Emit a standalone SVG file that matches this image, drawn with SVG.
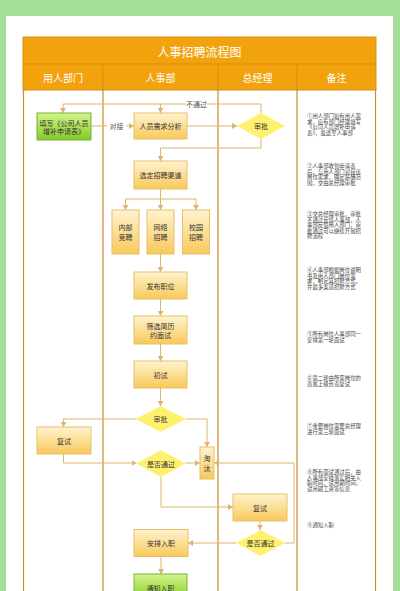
<svg xmlns="http://www.w3.org/2000/svg" width="400" height="591" viewBox="0 0 400 591">
<style>
text{font-family:"Noto Sans CJK SC","Noto Sans",sans-serif}
.hd{fill:#ffffff;font-size:10px;text-anchor:middle;dominant-baseline:central}
.tt{fill:#ffffff;font-size:12px;text-anchor:middle;dominant-baseline:central}
.nt{fill:#333333;font-size:7px;text-anchor:middle;dominant-baseline:central}
.lb{fill:#555555;font-size:7px;text-anchor:middle;dominant-baseline:central}
.note{fill:#444444;font-size:10.8px}
.box{fill:url(#gy);stroke:#e8bf68;stroke-width:1}
.gbox{fill:url(#gg);stroke:#72b334;stroke-width:1}
.dia{fill:#fff170}
.ln{fill:none;stroke:#dbb66c;stroke-width:1}
.arr{fill:none;stroke:#dbb66c;stroke-width:1;marker-end:url(#ah)}
.lane{stroke:#c98d2c;stroke-width:1.2}
</style>
<defs>
<linearGradient id="gy" x1="0" y1="0" x2="0" y2="1">
<stop offset="0" stop-color="#fff3cf"/>
<stop offset="1" stop-color="#f8c95a"/>
</linearGradient>
<linearGradient id="gg" x1="0" y1="0" x2="0" y2="1">
<stop offset="0" stop-color="#d4f48c"/>
<stop offset="1" stop-color="#84cb27"/>
</linearGradient>
<marker id="ah" markerWidth="6" markerHeight="6" refX="5" refY="3" orient="auto" markerUnits="userSpaceOnUse">
<path d="M0,0 L5,3 L0,6 Z" fill="#dbb66c"/>
</marker>
</defs>
<rect x="0" y="0" width="400" height="591" fill="#a3df98"/>
<rect x="6" y="16" width="387" height="580" fill="#ffffff"/>
<g id="table">
<rect x="23" y="37" width="353" height="53" fill="#f1a20d" stroke="#d58f17" stroke-width="1"/>
<line x1="23" y1="64" x2="376" y2="64" stroke="#d58f17" stroke-width="1"/>
<line x1="103" y1="64" x2="103" y2="90" stroke="#d58f17" stroke-width="1"/>
<line x1="218" y1="64" x2="218" y2="90" stroke="#d58f17" stroke-width="1"/>
<line x1="297" y1="64" x2="297" y2="90" stroke="#d58f17" stroke-width="1"/>
<text class="tt" x="199.5" y="51">人事招聘流程图</text>
<text class="hd" x="63" y="77">用人部门</text>
<text class="hd" x="160.5" y="77">人事部</text>
<text class="hd" x="257.5" y="77">总经理</text>
<text class="hd" x="336.5" y="77">备注</text>
<line class="lane" x1="23.5" y1="90" x2="23.5" y2="591" stroke="#dcb56c"/>
<line class="lane" x1="103" y1="90" x2="103" y2="591"/>
<line class="lane" x1="218" y1="90" x2="218" y2="591"/>
<line class="lane" x1="297" y1="90" x2="297" y2="591"/>
<line class="lane" x1="375.5" y1="90" x2="375.5" y2="591" stroke="#dcb56c"/>
</g>
<g id="connectors">
<path class="ln" d="M261,113 V104 H207"/>
<path class="ln" d="M186,104 H63"/>
<path class="arr" d="M63,104 V113"/>
<path class="arr" d="M160.5,104 V113"/>
<path class="ln" d="M91,126 H107"/>
<path class="arr" d="M126,126 H134"/>
<path class="arr" d="M187,126 H237"/>
<path class="arr" d="M261,139 V148 H160.5 V161"/>
<path class="ln" d="M160.5,189 V199 M125.5,199 H196"/>
<path class="arr" d="M125.5,199 V210"/>
<path class="arr" d="M160.5,199 V210"/>
<path class="arr" d="M196,199 V210"/>
<path class="arr" d="M160.5,254 V272"/>
<path class="arr" d="M160.5,299 V316"/>
<path class="arr" d="M160.5,344 V361"/>
<path class="arr" d="M160.5,388 V406"/>
<path class="arr" d="M136,419 H63.5 V427"/>
<path class="arr" d="M186,419 H207 V447"/>
<path class="arr" d="M63.5,454 V463 H136.5"/>
<path class="arr" d="M185.5,463 H200"/>
<path class="arr" d="M161,477 V507 H233"/>
<path class="arr" d="M260,521 V530"/>
<path class="arr" d="M236,543 H188"/>
<path class="arr" d="M285,543 H294 V463 H214"/>
<path class="arr" d="M161,556.5 V574"/>
</g>
<text class="lb" x="196.5" y="104">不通过</text>
<text class="lb" x="116.5" y="126">对接</text>
<g id="n-apply">
<rect class="gbox" x="37" y="113" width="54" height="27"/>
<text class="nt" x="64" y="122.5">填写《公司人员</text>
<text class="nt" x="64" y="131">增补申请表》</text>
</g>
<g id="n-analysis">
<rect class="box" x="134" y="113" width="53" height="26"/>
<text class="nt" x="160.5" y="126">人员需求分析</text>
</g>
<g id="n-approve1">
<polygon class="dia" points="261,113 285,126 261,139 237,126"/>
<text class="nt" x="261" y="126">审批</text>
</g>
<g id="n-channel">
<rect class="box" x="134" y="161" width="53" height="28"/>
<text class="nt" x="160.5" y="175">选定招聘渠道</text>
</g>
<g id="n-internal">
<rect class="box" x="112" y="210" width="27" height="44"/>
<text class="nt" x="125.5" y="227">内部</text>
<text class="nt" x="125.5" y="237">竞聘</text>
</g>
<g id="n-online">
<rect class="box" x="147" y="210" width="27" height="44"/>
<text class="nt" x="160.5" y="227">网络</text>
<text class="nt" x="160.5" y="237">招聘</text>
</g>
<g id="n-campus">
<rect class="box" x="182.5" y="210" width="27" height="44"/>
<text class="nt" x="196" y="227">校园</text>
<text class="nt" x="196" y="237">招聘</text>
</g>
<g id="n-publish">
<rect class="box" x="134" y="272" width="53" height="27"/>
<text class="nt" x="160.5" y="285.5">发布职位</text>
</g>
<g id="n-screen">
<rect class="box" x="134" y="316" width="53" height="28"/>
<text class="nt" x="160.5" y="325.5">筛选简历</text>
<text class="nt" x="160.5" y="334.5">约面试</text>
</g>
<g id="n-first">
<rect class="box" x="134" y="361" width="53" height="27"/>
<text class="nt" x="160.5" y="374.5">初试</text>
</g>
<g id="n-approve2">
<polygon class="dia" points="160.5,406 186,419 160.5,432 135.5,419"/>
<text class="nt" x="160.5" y="419">审批</text>
</g>
<g id="n-retest1">
<rect class="box" x="37" y="427" width="54" height="27"/>
<text class="nt" x="64" y="440.5">复试</text>
</g>
<g id="n-pass1">
<polygon class="dia" points="161,450 185.5,463.5 161,477 136.5,463.5"/>
<text class="nt" x="161" y="463.5">是否通过</text>
</g>
<g id="n-reject">
<rect class="box" x="200" y="447" width="14" height="32"/>
<text class="nt" x="207" y="458">淘</text>
<text class="nt" x="207" y="468">汰</text>
</g>
<g id="n-retest2">
<rect class="box" x="233" y="494" width="54" height="27"/>
<text class="nt" x="260" y="507.5">复试</text>
</g>
<g id="n-pass2">
<polygon class="dia" points="260.5,530 285,543 260.5,556 236,543"/>
<text class="nt" x="260.5" y="543">是否通过</text>
</g>
<g id="n-arrange">
<rect class="box" x="134" y="529.5" width="54" height="27"/>
<text class="nt" x="161" y="543">安排入职</text>
</g>
<g id="n-notify">
<rect class="gbox" x="134" y="574" width="53" height="27"/>
<text class="nt" x="160.5" y="587.5">通知入职</text>
</g>
<g id="notes">
<text class="note" transform="translate(307,118) scale(0.5)"><tspan x="0" y="0">①用人部门如有用人需</tspan><tspan x="0" y="11.2">求，应有部门经理填写</tspan><tspan x="0" y="22.4">《公司人员增补申请</tspan><tspan x="0" y="33.6">表》，发送至人事部</tspan></text>
<text class="note" transform="translate(307,168) scale(0.5)"><tspan x="0" y="0">②人事部收到申请表</tspan><tspan x="0" y="11.2">后，与用人部门对接该</tspan><tspan x="0" y="22.4">岗位需求，确定薪酬范</tspan><tspan x="0" y="33.6">围，交由总经理审批</tspan></text>
<text class="note" transform="translate(307,216) scale(0.5)"><tspan x="0" y="0">③交总经理审批，审批</tspan><tspan x="0" y="11.2">不通过反馈人事部，人</tspan><tspan x="0" y="22.4">事部反馈用人部门，审</tspan><tspan x="0" y="33.6">批通过可以继续开展招</tspan><tspan x="0" y="44.8">聘流程</tspan></text>
<text class="note" transform="translate(307,272) scale(0.5)"><tspan x="0" y="0">④人事部根据岗位说明</tspan><tspan x="0" y="11.2">书及用人部门岗位需</tspan><tspan x="0" y="22.4">求，制定其招聘方式，</tspan><tspan x="0" y="33.6">并最多渠道招聘方式</tspan></text>
<text class="note" transform="translate(307,336) scale(0.5)"><tspan x="0" y="0">⑤所有岗位人事部同一</tspan><tspan x="0" y="11.2">安排第一轮面试</tspan></text>
<text class="note" transform="translate(307,380) scale(0.5)"><tspan x="0" y="0">⑥第二轮由所需岗位的</tspan><tspan x="0" y="11.2">直属上级负责复试</tspan></text>
<text class="note" transform="translate(307,428) scale(0.5)"><tspan x="0" y="0">⑦重要岗位需要总经理</tspan><tspan x="0" y="11.2">进行第三轮面试</tspan></text>
<text class="note" transform="translate(307,474) scale(0.5)"><tspan x="0" y="0">⑧所有面试通过后，由</tspan><tspan x="0" y="11.2">人事部安排落实相关入</tspan><tspan x="0" y="22.4">职时间，试用期时间，</tspan><tspan x="0" y="33.6">试用期工资等信息</tspan></text>
<text class="note" transform="translate(307,527) scale(0.5)"><tspan x="0" y="0">⑨通知入职</tspan></text>
</g>
</svg>
